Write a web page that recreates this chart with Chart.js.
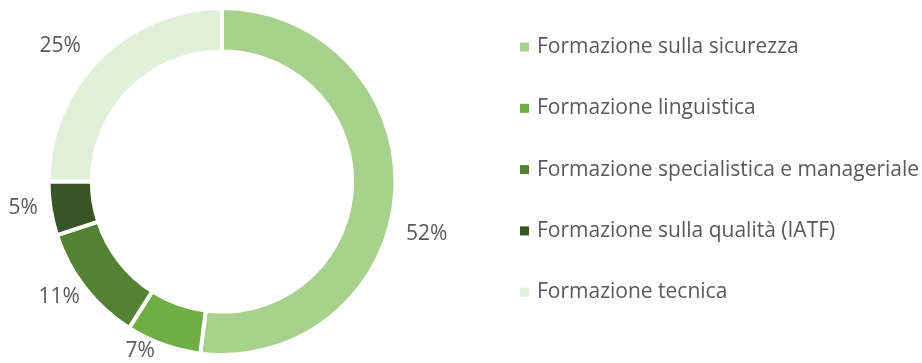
<!DOCTYPE html>
<html lang="it">
<head>
  <meta charset="UTF-8">
  <title>Ore di formazione per tipologia</title>
  <script src="https://cdn.jsdelivr.net/npm/chart.js"></script>
  <style>
    html, body { margin: 0; padding: 0; background: #fff; }
    #wrap { width: 922px; height: 363px; }
  </style>
</head>
<body>
  <div id="wrap"><canvas id="formazione"></canvas></div>
  <script>
    const categories = [
      'Formazione sulla sicurezza',
      'Formazione linguistica',
      'Formazione specialistica e manageriale',
      'Formazione sulla qualità (IATF)',
      'Formazione tecnica'
    ];
    const shares = [52, 7, 11, 5, 25];
    const colors = ['#A9D18E', '#70AD47', '#548235', '#375623', '#E2F0D9'];

    // hand-placed labels: shift from the default outside position
    const labelNudge = [[-1, 40], [-14, -13], [0, -3], [-1, -4], [-16, 1]];

    const FONT = '21px "Open Sans", sans-serif';
    const TEXT = '#595959';

    // percentage labels outside the ring + legend on the right
    const decorations = {
      id: 'decorations',
      afterDraw(chart) {
        const ctx = chart.ctx;
        const meta = chart.getDatasetMeta(0);
        ctx.save();
        ctx.font = FONT;
        ctx.fillStyle = TEXT;
        ctx.textAlign = 'center';
        ctx.textBaseline = 'middle';
        meta.data.forEach((arc, i) => {
          const p = arc.getProps(['x', 'y', 'startAngle', 'endAngle', 'outerRadius']);
          const mid = (p.startAngle + p.endAngle) / 2;
          const txt = shares[i] + '%';
          const w = ctx.measureText(txt).width;
          const h = 16;
          const dx = Math.cos(mid), dy = Math.sin(mid);
          const r = p.outerRadius + 12;
          const x = p.x + dx * r + dx * w / 2 + labelNudge[i][0];
          const y = p.y + dy * r + dy * h / 2 + labelNudge[i][1];
          ctx.fillText(txt, x, y);
        });

        ctx.textAlign = 'left';
        const x0 = 520, y0 = 47, step = 61.3;
        categories.forEach((c, i) => {
          const y = y0 + i * step;
          ctx.fillStyle = colors[i];
          ctx.fillRect(x0, y - 4.5, 9, 9);
          ctx.fillStyle = TEXT;
          ctx.fillText(c, x0 + 17, y);
        });
        ctx.restore();
      }
    };

    new Chart(document.getElementById('formazione'), {
      type: 'doughnut',
      data: {
        labels: categories,
        datasets: [{
          data: shares,
          backgroundColor: colors,
          borderColor: '#ffffff',
          borderWidth: 4
        }]
      },
      options: {
        responsive: true,
        maintainAspectRatio: false,
        animation: false,
        cutout: '75%',
        layout: { padding: { top: 6, bottom: 6, left: 0, right: 478 } },
        plugins: {
          legend: { display: false },
          tooltip: { enabled: false }
        }
      },
      plugins: [decorations]
    });
  </script>
</body>
</html>
